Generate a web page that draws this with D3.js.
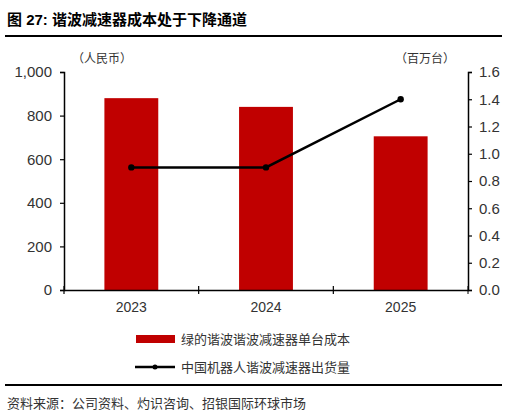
<!DOCTYPE html>
<html><head><meta charset="utf-8">
<script src="https://cdn.jsdelivr.net/npm/d3@7"></script>
<style>body{margin:0;background:#fff}text{font-family:"Liberation Sans","Noto Sans CJK SC",sans-serif}</style>
</head><body><div id="canvas"></div>
<script>
// data
const years = ["2023", "2024", "2025"];
const unitCost = [880, 840, 705];
const shipments = [0.9, 0.9, 1.4];
const leftTicks = [0, 200, 400, 600, 800, 1000];
const rightTicks = [0, 0.2, 0.4, 0.6, 0.8, 1.0, 1.2, 1.4, 1.6];

const W = 513, H = 419;
const svg = d3.select("#canvas").append("svg").attr("width", W).attr("height", H);
const cjk = '"Noto Sans CJK SC",sans-serif';

// title + rules
svg.append("text").attr("x", 7).attr("y", 25).attr("font-size", 15).attr("font-weight", "bold")
    .attr("font-family", '"Liberation Sans","Noto Sans CJK SC",sans-serif').text("图 27: 谐波减速器成本处于下降通道");
svg.append("line").attr("x1", 5).attr("x2", 502).attr("y1", 36).attr("y2", 36).attr("stroke", "#000").attr("stroke-width", 2);
svg.append("line").attr("x1", 5).attr("x2", 502).attr("y1", 385).attr("y2", 385).attr("stroke", "#000").attr("stroke-width", 2);

const plotL = 64, plotR = 468, plotT = 72, plotB = 290;
const x = d3.scaleBand().domain(years).range([plotL, plotR]).paddingInner(0.6).paddingOuter(0.3);
const xb = d3.scaleBand().domain(years).range([plotL, plotR]);
const yL = d3.scaleLinear().domain([0, 1000]).range([plotB, plotT]);
const yR = d3.scaleLinear().domain([0, 1.6]).range([plotB, plotT]);

// bars
svg.selectAll("rect.bar").data(years).join("rect")
    .attr("x", d => x(d)).attr("width", x.bandwidth())
    .attr("y", (d, i) => yL(unitCost[i])).attr("height", (d, i) => plotB - yL(unitCost[i]))
    .attr("fill", "#c00000");

// axes
const axL = svg.append("g").attr("transform", `translate(${plotL},0)`)
    .call(d3.axisLeft(yL).tickValues(leftTicks).tickFormat(d3.format(",")).tickSize(4).tickPadding(8));
const axR = svg.append("g").attr("transform", `translate(${plotR},0)`)
    .call(d3.axisRight(yR).tickValues(rightTicks).tickFormat(d3.format(".1f")).tickSize(4).tickPadding(7));
const axB = svg.append("g").attr("transform", `translate(0,${plotB})`)
    .call(d3.axisBottom(xb).tickSize(0).tickPadding(12));
axB.selectAll(".tick").each(function(d) {
    d3.select(this).append("line").attr("x1", -xb.bandwidth() / 2).attr("x2", -xb.bandwidth() / 2)
        .attr("y1", -4).attr("y2", 4).attr("stroke", "#000");
});
axB.append("line").attr("x1", plotR).attr("x2", plotR).attr("y1", -4).attr("y2", 4).attr("stroke", "#000");
[axL, axR, axB].forEach(a => {
    a.select(".domain").attr("stroke-width", 1.5);
    a.selectAll("text").attr("font-size", 15).attr("fill", "#333").attr("font-family", '"Liberation Sans",sans-serif');
    a.selectAll(".tick line").attr("stroke-width", 1.2);
});
axB.selectAll("text").attr("font-size", 14);

// unit labels
svg.append("text").attr("x", 72).attr("y", 63).attr("font-size", 12).attr("font-family", cjk).attr("fill", "#333").text("（人民币）");
svg.append("text").attr("x", 395).attr("y", 63).attr("font-size", 12).attr("font-family", cjk).attr("fill", "#333").text("（百万台）");

// line
const cx = d => xb(d) + xb.bandwidth() / 2;
svg.append("path").datum(years)
    .attr("fill", "none").attr("stroke", "#000").attr("stroke-width", 2.5)
    .attr("d", d3.line().x(cx).y((d, i) => yR(shipments[i])));
svg.selectAll("circle.pt").data(years).join("circle")
    .attr("cx", cx).attr("cy", (d, i) => yR(shipments[i])).attr("r", 3.2).attr("fill", "#000");

// legend
svg.append("rect").attr("x", 136).attr("y", 335).attr("width", 39).attr("height", 8).attr("fill", "#c00000");
svg.append("text").attr("x", 181).attr("y", 344).attr("font-size", 13).attr("font-family", cjk).attr("fill", "#333").text("绿的谐波谐波减速器单台成本");
svg.append("line").attr("x1", 135).attr("x2", 175).attr("y1", 367).attr("y2", 367).attr("stroke", "#000").attr("stroke-width", 2.5);
svg.append("circle").attr("cx", 155).attr("cy", 367).attr("r", 2.5).attr("fill", "#000");
svg.append("text").attr("x", 181).attr("y", 372).attr("font-size", 13).attr("font-family", cjk).attr("fill", "#333").text("中国机器人谐波减速器出货量");

// source
svg.append("text").attr("x", 7).attr("y", 408).attr("font-size", 13).attr("font-family", cjk).attr("fill", "#333").text("资料来源：公司资料、灼识咨询、招银国际环球市场");
</script></body></html>
